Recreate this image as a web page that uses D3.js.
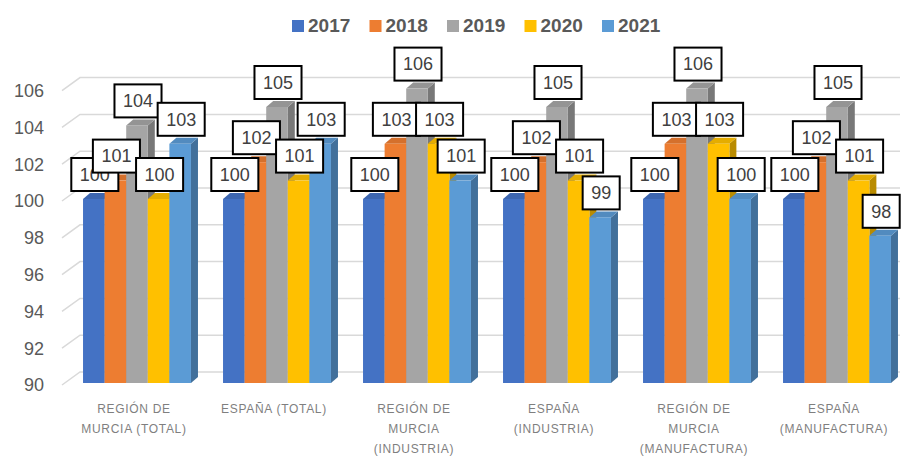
<body style="margin:0;background:#fff"></body>

<script src='https://d3js.org/d3.v7.min.js'></script>
<script>

    const width = 905;
    const height = 457;
    const depthX = 7, depthY = -6;   // 3d bar depth
    const wallX = 18, wallY = -13;   // back wall offset

    // data
    const categories = [
        ["REGIÓN DE", "MURCIA (TOTAL)"],
        ["ESPAÑA (TOTAL)"],
        ["REGIÓN DE", "MURCIA", "(INDUSTRIA)"],
        ["ESPAÑA", "(INDUSTRIA)"],
        ["REGIÓN DE", "MURCIA", "(MANUFACTURA)"],
        ["ESPAÑA", "(MANUFACTURA)"]
    ];
    const years = ["2017", "2018", "2019", "2020", "2021"];
    const v2017 = [100, 100, 100, 100, 100, 100];
    const v2018 = [101, 102, 103, 102, 103, 102];
    const v2019 = [104, 105, 106, 105, 106, 105];
    const v2020 = [100, 101, 103, 101, 103, 101];
    const v2021 = [103, 103, 101, 99, 100, 98];
    const yTicks = [90, 92, 94, 96, 98, 100, 102, 104, 106];
    const colors = ["#4472C4", "#ED7D31", "#A5A5A5", "#FFC000", "#5B9BD5"];

    const series = [v2017, v2018, v2019, v2020, v2021];
    const catIdx = d3.range(categories.length);

    var svg = d3.select("body")
        .append("svg")
        .attr("width", width)
        .attr("height", height)
        .style("font-family", "'Liberation Sans', Arial, sans-serif");

    var y = d3.scaleLinear()
        .domain([90, 106])
        .range([383, 88.6]);

    var x0 = d3.scaleBand()
        .domain(catIdx)
        .range([67, 907])
        .paddingInner(0.229)
        .paddingOuter(0.1145);

    var x1 = d3.scaleBand()
        .domain(years)
        .range([0, x0.bandwidth()]);

    var color = d3.scaleOrdinal().domain(years).range(colors);

    // gridlines on the back wall
    svg.append("g").selectAll("path")
        .data(yTicks)
        .enter()
        .append("path")
        .attr("d", function (d) {
            var yy = y(d) + 2;
            return "M62," + yy + "L" + (62 + wallX) + "," + (yy + wallY) + "L900," + (yy + wallY);
        })
        .attr("fill", "none")
        .attr("stroke", "#d9d9d9")
        .attr("stroke-width", 1.5);

    // y axis labels
    svg.append("g").selectAll("text")
        .data(yTicks)
        .enter()
        .append("text")
        .attr("x", 44)
        .attr("y", function (d) { return y(d) + 2; })
        .attr("dy", ".35em")
        .style("text-anchor", "end")
        .style("font-size", "18px")
        .attr("fill", "#595959")
        .text(function (d) { return d; });

    // bars, drawn left to right so nearer faces cover farther ones
    var bars = [];
    catIdx.forEach(function (c) {
        years.forEach(function (yr, s) {
            bars.push({ cat: c, year: yr, value: series[s][c] });
        });
    });

    var g = svg.append("g").selectAll("g")
        .data(bars)
        .enter()
        .append("g");

    g.append("path") // side
        .attr("d", function (d) {
            var xr = x0(d.cat) + x1(d.year) + x1.bandwidth();
            var yt = y(d.value), yb = y(90);
            return "M" + xr + "," + yt + "L" + (xr + depthX) + "," + (yt + depthY) +
                "L" + (xr + depthX) + "," + (yb + depthY) + "L" + xr + "," + yb + "Z";
        })
        .attr("fill", function (d) { return d3.color(color(d.year)).darker(0.9); });

    g.append("path") // top
        .attr("d", function (d) {
            var xl = x0(d.cat) + x1(d.year), w = x1.bandwidth();
            var yt = y(d.value);
            return "M" + xl + "," + yt + "L" + (xl + w) + "," + yt +
                "L" + (xl + w + depthX) + "," + (yt + depthY) + "L" + (xl + depthX) + "," + (yt + depthY) + "Z";
        })
        .attr("fill", function (d) { return d3.color(color(d.year)).darker(0.3); });

    g.append("rect") // front
        .attr("x", function (d) { return x0(d.cat) + x1(d.year); })
        .attr("y", function (d) { return y(d.value); })
        .attr("width", x1.bandwidth())
        .attr("height", function (d) { return y(90) - y(d.value); })
        .attr("fill", function (d) { return color(d.year); });

    // data labels, series by series
    var labelOrder = [];
    years.forEach(function (yr, s) {
        catIdx.forEach(function (c) {
            labelOrder.push({ cat: c, year: yr, value: series[s][c] });
        });
    });

    var lab = svg.append("g").selectAll("g")
        .data(labelOrder)
        .enter()
        .append("g")
        .attr("transform", function (d) {
            var cx = x0(d.cat) + x1(d.year) + x1.bandwidth() / 2 + 1;
            return "translate(" + cx + "," + (y(d.value) - 8) + ")";
        });
    var boxes = lab.append("rect")
        .attr("y", -33)
        .attr("height", 33)
        .attr("fill", "#fff")
        .attr("stroke", "#000")
        .attr("stroke-width", 2);
    var labText = lab.append("text")
        .attr("y", -16.5)
        .attr("dy", ".35em")
        .style("text-anchor", "middle")
        .style("font-size", "18px")
        .attr("fill", "#404040")
        .text(function (d) { return d.value; });
    labText.each(function (d) { d.tw = this.getComputedTextLength(); });
    boxes
        .attr("x", function (d) { return -(d.tw + 17) / 2; })
        .attr("width", function (d) { return d.tw + 17; });

    // category labels
    var cl = svg.append("g").selectAll("text")
        .data(catIdx)
        .enter()
        .append("text")
        .attr("x", function (d) { return x0(d) + x0.bandwidth() / 2 - 3; })
        .attr("y", 413)
        .style("text-anchor", "middle")
        .style("font-size", "12px")
        .style("letter-spacing", "0.7px")
        .attr("fill", "#7f7f7f");
    cl.selectAll("tspan")
        .data(function (d) { return categories[d].map(function (t) { return { t: t, c: d }; }); })
        .enter()
        .append("tspan")
        .attr("x", function (d) { return x0(d.c) + x0.bandwidth() / 2 - 3; })
        .attr("dy", function (d, i) { return i === 0 ? 0 : 20; })
        .text(function (d) { return d.t; });

    // legend
    var leg = svg.append("g").selectAll("g")
        .data(years)
        .enter()
        .append("g")
        .attr("transform", function (d, i) { return "translate(" + (292 + i * 77.5) + ",20)"; });
    leg.append("rect")
        .attr("width", 12)
        .attr("height", 12)
        .attr("fill", function (d) { return color(d); });
    leg.append("text")
        .attr("x", 16)
        .attr("y", 12)
        .style("font-size", "19px")
        .style("font-weight", "bold")
        .attr("fill", "#595959")
        .text(function (d) { return d; });
</script>
